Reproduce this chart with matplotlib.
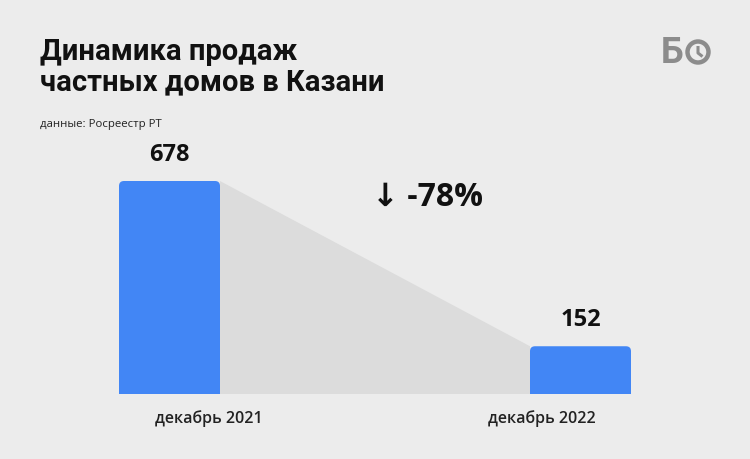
import matplotlib
matplotlib.use('Agg')
import matplotlib.pyplot as plt
from matplotlib.patches import Polygon, FancyBboxPatch, Rectangle, Circle

plt.rcParams['font.family'] = ['Open Sans', 'DejaVu Sans']

periods = ["декабрь 2021", "декабрь 2022"]
values = [678, 152]
change = "↓ -78%"
title = "Динамика продаж\nчастных домов в Казани"
source = "данные: Росреестр РТ"

bg = '#ececec'
blue = '#4286f5'
w = 101 / 411.0

fig = plt.figure(figsize=(7.5, 4.6), dpi=100, facecolor=bg)
ax = fig.add_axes([119 / 750, 65 / 460, 512 / 750, 213 / 460])
ax.set_facecolor(bg)
ax.set_xlim(-w / 2, 1 + w / 2)
ax.set_ylim(0, values[0])
ax.axis('off')

# grey wedge between bars
poly = Polygon([(w / 2, values[0]), (1 - w / 2, values[1]), (1 - w / 2, 0), (w / 2, 0)],
               closed=True, color='#dcdcdc', lw=0, zorder=1)
ax.add_patch(poly)

# bars with slightly rounded tops
xpp = (1 + w) / 512.0
ypp = values[0] / 213.0
for i, v in enumerate(values):
    ax.add_patch(FancyBboxPatch((i - w / 2, 0), w, v,
                                boxstyle="round,pad=0,rounding_size=%f" % (5 * xpp),
                                mutation_aspect=ypp / xpp, color=blue, lw=0, zorder=2))
    ax.add_patch(Rectangle((i - w / 2, 0), w, v / 2, color=blue, lw=0, zorder=2))

shift = [28, -28]
for i, v in enumerate(values):
    ax.annotate(str(v), (i, v), xytext=(0, 11), textcoords='offset points',
                ha='center', va='bottom', fontsize=17, fontweight='bold', color='#111111')
    ax.annotate(periods[i], (i, 0), xytext=(shift[i], -11), textcoords='offset points',
                ha='center', va='top', fontsize=11.5, fontweight='semibold', color='#222222')

fig.text(428 / 750, 1 - 197 / 460, change, ha='center', va='center',
         fontsize=23, fontweight='bold', color='#111111')

fig.text(40 / 750, 1 - 38 / 460, title, ha='left', va='top', fontsize=21,
         fontweight='bold', color='#111111', linespacing=1.1, family=['Roboto', 'DejaVu Sans'])
fig.text(40 / 750, 1 - 125 / 460, source, ha='left', va='center', fontsize=8.2,
         color='#222222')

# logo
fig.text(672 / 750, 1 - 53 / 460, "Б", ha='center', va='center', fontsize=26,
         fontweight='bold', color='#8c8c8c', family=['Roboto', 'DejaVu Sans'])
lax = fig.add_axes([685 / 750, (460 - 67) / 460, 26 / 750, 28 / 460])
lax.set_xlim(0, 26)
lax.set_ylim(0, 28)
lax.axis('off')
lax.add_patch(Circle((13, 14), 10.5, fill=False, ec='#8c8c8c', lw=3.2))
lax.plot([13, 13, 17.5], [20, 13, 9.5], color='#8c8c8c', lw=2.2, solid_capstyle='butt')

fig.savefig('out.png', dpi=100, facecolor=bg)
